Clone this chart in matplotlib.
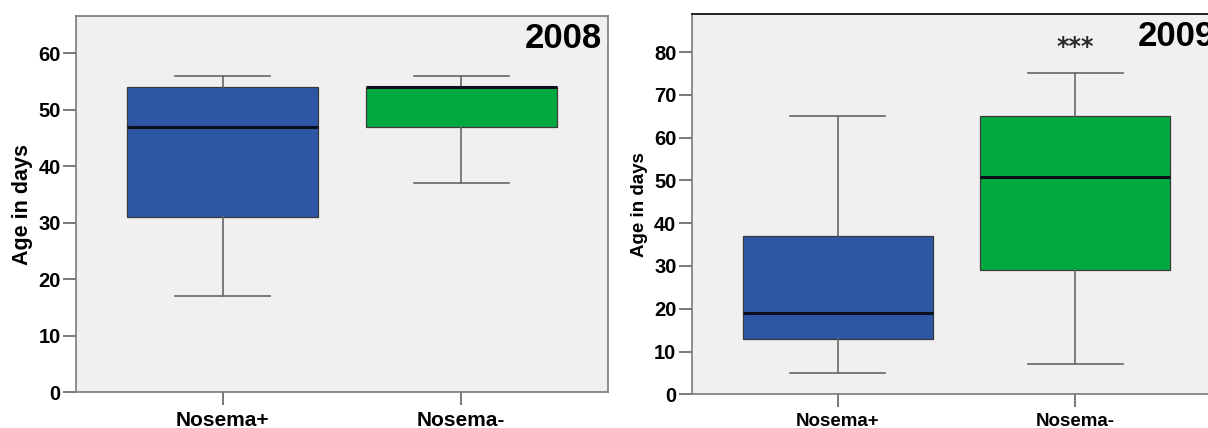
import matplotlib
matplotlib.use('Agg')
import matplotlib.pyplot as plt

groups = ['Nosema+', 'Nosema-']
years = ['2008', '2009']

# five-number summaries per group: low whisker, Q1, median, Q3, high whisker
whislo_2008 = [17, 37]
q1_2008 = [31, 47]
med_2008 = [47, 54]
q3_2008 = [54, 54]
whishi_2008 = [56, 56]

whislo_2009 = [5, 7]
q1_2009 = [13, 29]
med_2009 = [19, 50.7]
q3_2009 = [37, 65]
whishi_2009 = [65, 75]

signif_2009 = '***'

box_colors = ['#2d56a5', '#00a940']

plt.rcParams['font.family'] = ['Liberation Sans', 'DejaVu Sans']
plt.rcParams['font.weight'] = 'bold'


def make_stats(lo, q1, med, q3, hi):
    return [dict(whislo=a, q1=b, med=c, q3=d, whishi=e, label=g, fliers=[])
            for a, b, c, d, e, g in zip(lo, q1, med, q3, hi, groups)]


def draw_panel(ax, stats, year, ymax, yticks, tick_fs, xlab_fs, ylab_fs):
    ax.set_facecolor('#f0f0f0')
    bp = ax.bxp(stats, positions=[1, 2], widths=0.8, patch_artist=True,
                showfliers=False,
                boxprops=dict(edgecolor='#3a3a3a', linewidth=0.9),
                medianprops=dict(color='#0a0f1e', linewidth=2.2),
                whiskerprops=dict(color='#666666', linewidth=1.2),
                capprops=dict(color='#666666', linewidth=1.2),
                capwidths=0.4)
    for patch, c in zip(bp['boxes'], box_colors):
        patch.set_facecolor(c)
    ax.set_xlim(0.385, 2.615)
    ax.set_ylim(0, ymax)
    ax.set_yticks(yticks)
    ax.set_xticks([1, 2])
    ax.set_xticklabels(groups, fontsize=xlab_fs, fontweight='bold')
    for lab in ax.get_yticklabels():
        lab.set_fontsize(tick_fs)
        lab.set_fontweight('bold')
    ax.tick_params(axis='both', direction='out', length=9.5, width=1.1,
                   color='#555555', labelcolor='black')
    ax.tick_params(axis='y', pad=1.5)
    ax.tick_params(axis='x', pad=4)
    for sp in ax.spines.values():
        sp.set_color('#7a7a7a')
        sp.set_linewidth(1.2)
    ax.set_ylabel('Age in days', fontsize=ylab_fs, fontweight='bold', labelpad=4)
    ax.text(1 - 6 / 530, 0.915, year, transform=ax.transAxes, ha='right',
            va='baseline', fontsize=25, fontweight='bold', color='black')


fig = plt.figure(figsize=(12.08, 4.28), dpi=100)
fig.patch.set_facecolor('white')

ax1 = fig.add_axes([0.0629, 0.0841, 0.4404, 0.8785])
ax2 = fig.add_axes([0.5726, 0.0787, 0.4382, 0.8886])

draw_panel(ax1, make_stats(whislo_2008, q1_2008, med_2008, q3_2008, whishi_2008),
           years[0], 66.6, range(0, 61, 10), 14.5, 15, 15.5)
draw_panel(ax2, make_stats(whislo_2009, q1_2009, med_2009, q3_2009, whishi_2009),
           years[1], 88.9, range(0, 81, 10), 14.5, 13.5, 13.5)
ax2.spines['top'].set_color('black')

ax2.text(2, 79.5, signif_2009, ha='center', va='baseline', fontsize=17,
         color='#2a2a2a', family='DejaVu Sans', fontweight='bold')

fig.savefig('out.png', dpi=100)
